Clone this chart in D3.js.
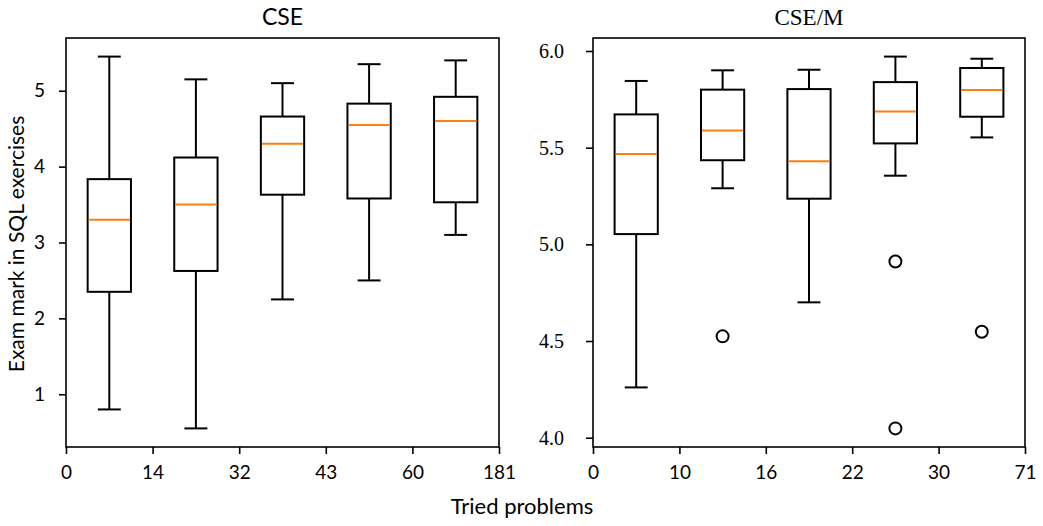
<!DOCTYPE html>
<html>
<head>
<meta charset="utf-8">
<script src="https://cdn.jsdelivr.net/npm/d3@7"></script>
<style>
  body { margin: 0; background: #fff; }
  svg text { font-family: Lato, "Noto Sans", sans-serif; fill: #000; }
  .serif text, text.serif { font-family: "Liberation Serif", "DejaVu Serif", serif; }
</style>
</head>
<body>
<svg id="chart" width="1043" height="526"></svg>
<script>
// bin edges used as x tick labels
var cseEdges = ["0", "14", "32", "43", "60", "181"];
var csemEdges = ["0", "10", "16", "22", "30", "71"];

// CSE boxes: whisker low, q1, median, q3, whisker high
var cseLow = [0.8, 0.55, 2.25, 2.5, 3.1];
var cseQ1 = [2.35, 2.625, 3.63, 3.58, 3.53];
var cseMed = [3.3, 3.5, 4.3, 4.55, 4.6];
var cseQ3 = [3.835, 4.12, 4.66, 4.83, 4.92];
var cseHigh = [5.45, 5.15, 5.1, 5.35, 5.4];
var cseOut = [[], [], [], [], []];

// CSE/M boxes
var csemLow = [4.26, 5.29, 4.7, 5.355, 5.553];
var csemQ1 = [5.053, 5.435, 5.236, 5.522, 5.66];
var csemMed = [5.467, 5.589, 5.43, 5.687, 5.798];
var csemQ3 = [5.672, 5.8, 5.803, 5.839, 5.912];
var csemHigh = [5.845, 5.9, 5.903, 5.971, 5.96];
var csemOut = [[], [4.524], [], [4.911, 4.048], [4.548]];

var cseTicks = [1, 2, 3, 4, 5];
var csemTicks = [4.0, 4.5, 5.0, 5.5, 6.0];

var svg = d3.select("#chart");
var plotTop = 38, plotBottom = 447;

function panel(x0, x1, title, edges, low, q1, med, q3, high, outs, yTicks, yFmt, serifY) {
  var all = low.concat(high, d3.merge(outs));
  var lo = d3.min(all), hi = d3.max(all), pad = (hi - lo) * 0.05;

  var x = d3.scaleLinear().domain([0, edges.length - 1]).range([x0, x1]);
  var y = d3.scaleLinear().domain([lo - pad, hi + pad]).range([plotBottom, plotTop]);

  var g = svg.append("g");
  var boxW = (x(1) - x(0)) / 2, capW = boxW * 0.53;

  var data = med.map(function(d, i) {
    return {i: i, low: low[i], q1: q1[i], med: d, q3: q3[i], high: high[i], out: outs[i]};
  });
  var bx = g.selectAll(".bx").data(data).enter().append("g")
    .attr("fill", "none").attr("stroke", "#000").attr("stroke-width", 2);
  function cx(d) { return x(d.i + 0.5); }

  bx.append("line").attr("x1", cx).attr("x2", cx)
    .attr("y1", function(d) { return y(d.q3); }).attr("y2", function(d) { return y(d.high); });
  bx.append("line").attr("x1", cx).attr("x2", cx)
    .attr("y1", function(d) { return y(d.q1); }).attr("y2", function(d) { return y(d.low); });
  bx.append("line").attr("x1", function(d) { return cx(d) - capW / 2; }).attr("x2", function(d) { return cx(d) + capW / 2; })
    .attr("y1", function(d) { return y(d.high); }).attr("y2", function(d) { return y(d.high); });
  bx.append("line").attr("x1", function(d) { return cx(d) - capW / 2; }).attr("x2", function(d) { return cx(d) + capW / 2; })
    .attr("y1", function(d) { return y(d.low); }).attr("y2", function(d) { return y(d.low); });
  bx.append("rect")
    .attr("x", function(d) { return cx(d) - boxW / 2; })
    .attr("y", function(d) { return y(d.q3); })
    .attr("width", boxW)
    .attr("height", function(d) { return y(d.q1) - y(d.q3); });
  bx.append("line").attr("stroke", "#ff7f0e")
    .attr("x1", function(d) { return cx(d) - boxW / 2 + 1; }).attr("x2", function(d) { return cx(d) + boxW / 2 - 1; })
    .attr("y1", function(d) { return y(d.med); }).attr("y2", function(d) { return y(d.med); });
  bx.selectAll("circle").data(function(d) { return d.out.map(function(v) { return {i: d.i, v: v}; }); })
    .enter().append("circle")
    .attr("cx", cx).attr("cy", function(d) { return y(d.v); }).attr("r", 6);

  // frame
  g.append("rect").attr("x", x0).attr("y", plotTop).attr("width", x1 - x0).attr("height", plotBottom - plotTop)
    .attr("fill", "none").attr("stroke", "#000").attr("stroke-width", 1.6);

  var xa = g.append("g").attr("transform", "translate(0," + plotBottom + ")")
    .call(d3.axisBottom(x).tickValues(d3.range(edges.length)).tickFormat(function(i) { return edges[i]; }).tickSize(7).tickPadding(12));
  xa.selectAll("text").style("font-size", "19px");

  var ya = g.append("g").attr("transform", "translate(" + x0 + ",0)")
    .call(d3.axisLeft(y).tickValues(yTicks).tickFormat(d3.format(yFmt)).tickSize(7).tickPadding(serifY ? 22 : 14));
  ya.selectAll("text").style("font-size", serifY ? "20px" : "19px");
  if (serifY) ya.classed("serif", true);
  g.selectAll(".domain").remove();
  g.selectAll(".tick line").attr("stroke", "#000").attr("stroke-width", 1.6);

  g.append("text").attr("x", (x0 + x1) / 2).attr("y", 25).attr("text-anchor", "middle")
    .style("font-size", "23px").attr("class", serifY ? "serif" : null).text(title);
}

panel(66, 499, "CSE", cseEdges, cseLow, cseQ1, cseMed, cseQ3, cseHigh, cseOut, cseTicks, "d", false);
panel(593, 1025, "CSE/M", csemEdges, csemLow, csemQ1, csemMed, csemQ3, csemHigh, csemOut, csemTicks, ".1f", true);

svg.append("text").attr("transform", "translate(24,244) rotate(-90)").attr("text-anchor", "middle")
  .style("font-size", "21px").text("Exam mark in SQL exercises");
svg.append("text").attr("x", 522).attr("y", 514).attr("text-anchor", "middle")
  .style("font-size", "22px").text("Tried problems");
</script>
</body>
</html>
